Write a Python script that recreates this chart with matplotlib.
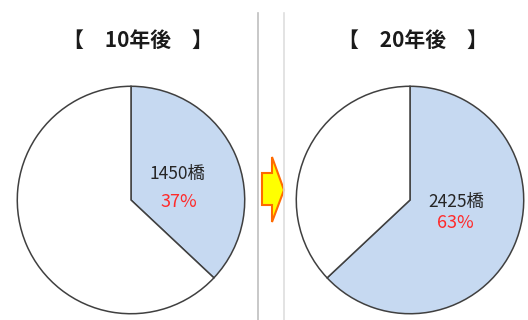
import matplotlib
matplotlib.use('Agg')
import matplotlib.pyplot as plt
from matplotlib.lines import Line2D
from matplotlib.patches import Polygon

plt.rcParams['font.family'] = ['Noto Sans CJK JP', 'DejaVu Sans']

# data
titles = ['【　10年後　】', '【　20年後　】']
bridges = [1450, 2425]
share = [37, 63]

W, H = 528, 320
fig = plt.figure(figsize=(W / 100, H / 100), dpi=100)

def px(x0, y0, w, h):
    # pixel box (top-left origin) -> figure fraction
    return [x0 / W, 1 - (y0 + h) / H, w / W, h / H]

centers = [131, 410]
title_x = [137.5, 412.5]
r = 116
label_pos = [((0.41, 0.23), (0.42, -0.02)), ((0.41, -0.02), (0.40, -0.20))]

for i in range(2):
    ax = fig.add_axes(px(centers[i] - r, 200 - r, 2 * r, 2 * r))
    vals = [share[i], 100 - share[i]]
    ax.pie(vals, startangle=90, counterclock=False, radius=1,
           colors=['#c6d9f1', 'white'],
           wedgeprops=dict(edgecolor='#404040', linewidth=1.1))
    ax.set_xlim(-1.02, 1.02)
    ax.set_ylim(-1.02, 1.02)
    ax.set_aspect('equal')
    ax.axis('off')
    (lx, ly), (px2, py2) = label_pos[i]
    ax.text(lx, ly, f'{bridges[i]}橋', ha='center', va='center',
            fontsize=12.5, color='#262626')
    ax.text(px2, py2, f'{share[i]}%', ha='center', va='center',
            fontsize=13, color='#ff2a2a')
    fig.text(title_x[i] / W, 1 - 40 / H, titles[i], ha='center', va='center',
             fontsize=15, fontweight='bold', color='#1a1a1a')

# separator lines
fig.add_artist(Line2D([258 / W, 258 / W], [1 - 13 / H, 0], color='#bfbfbf', lw=1.2))
fig.add_artist(Line2D([284 / W, 284 / W], [1 - 13 / H, 0], color='#dedede', lw=1.2))

# arrow
arrow = [(262, 173), (272, 173), (272, 157), (284, 190), (272, 222), (272, 205), (262, 205)]
arrow = [(x / W, 1 - y / H) for x, y in arrow]
fig.add_artist(Polygon(arrow, closed=True, facecolor='#ffff00', edgecolor='#ff6a00',
                       lw=1.5, transform=fig.transFigure))

fig.savefig('out.png', dpi=100)
